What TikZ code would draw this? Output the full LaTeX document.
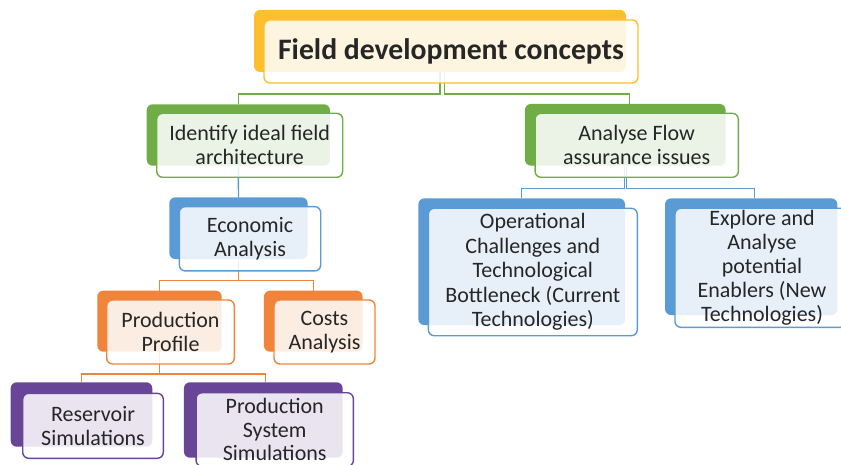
\documentclass[tikz,border=0pt]{standalone}
\usepackage{fontspec}
\setmainfont{Carlito}
\definecolor{cgold}{HTML}{FDBF2D}
\definecolor{cgreen}{HTML}{70AD47}
\definecolor{cblue}{HTML}{5B9BD5}
\definecolor{corange}{HTML}{F0843A}
\definecolor{cpurple}{HTML}{684597}
\definecolor{txt}{HTML}{262626}
\tikzset{
  backbox/.style={draw=none, fill=#1, rounded corners=6pt, inner sep=0pt, outer sep=0pt},
  frontbox/.style={draw=#1, line width=1.4pt, fill=white, fill opacity=0.86, draw opacity=1, text opacity=1,
    rounded corners=6pt, align=center, text=txt, inner sep=0pt, outer sep=0pt,
    font=\fontsize{22}{24}\selectfont},
  conn/.style={draw=#1, line width=1.4pt}
}
\begin{document}
\begin{tikzpicture}[x=1pt,y=-1pt]
\useasboundingbox (0,0) rectangle (841,465);
\clip (0,0) rectangle (841,465);

% back boxes
\node[backbox=cgold, minimum width=372pt, minimum height=62pt] (T-b) at (440,41) {};
\node[backbox=cgreen, minimum width=183.3pt, minimum height=61.4pt] (I-b) at (238.3,135) {};
\node[backbox=cgreen, minimum width=200.7pt, minimum height=61.7pt] (A-b) at (625.3,134.8) {};
\node[backbox=cblue, minimum width=138.4pt, minimum height=61.7pt] (E-b) at (238.5,228.2) {};
\node[backbox=cblue, minimum width=206.7pt, minimum height=126.7pt] (O-b) at (521.7,261.7) {};
\node[backbox=cblue, minimum width=172.3pt, minimum height=116.7pt] (X-b) at (751.2,256.7) {};
\node[backbox=corange, minimum width=124.4pt, minimum height=61pt] (P-b) at (159.5,321.2) {};
\node[backbox=corange, minimum width=98.7pt, minimum height=61pt] (C-b) at (313.3,321.2) {};
\node[backbox=cpurple, minimum width=141.6pt, minimum height=64.4pt] (R-b) at (81.5,414.5) {};
\node[backbox=cpurple, minimum width=158.7pt, minimum height=75.4pt] (S-b) at (263.3,420) {};

% connectors
\draw[conn=cgreen] (T-b.south) -- ++(0,22) -| (I-b.north);
\draw[conn=cgreen] ([xshift=4.7pt]T-b.south) -- ++(0,22) -| ([xshift=4pt]A-b.north);
\draw[conn=cblue] (I-b.south) -- (E-b.north);
\draw[conn=cblue] ([xshift=-1pt]A-b.south) -- ++(0,22.6) -| (O-b.north);
\draw[conn=cblue] ([xshift=1.2pt]A-b.south) -- ++(0,22.6) -| ([xshift=3pt]X-b.north);
\draw[conn=corange] (E-b.south) -- ++(0,21.7) -| (P-b.north);
\draw[conn=corange] (E-b.south) -- ++(0,21.7) -| (C-b.north);
\draw[conn=corange] (P-b.south) -- ++(0,22.3) -| (R-b.north);
\draw[conn=corange] (P-b.south) -- ++(0,22.3) -| ([xshift=2.4pt]S-b.north);

% front boxes
\node[frontbox=cgold, minimum width=374pt, minimum height=63pt, font=\fontsize{29.7}{32}\selectfont\bfseries] (T) at (451,51.5) {Field development concepts};
\node[frontbox=cgreen, minimum width=186pt, minimum height=64pt] (I) at (249.7,145.3) {Identify ideal field\\architecture};
\node[frontbox=cgreen, minimum width=203.3pt, minimum height=64pt] (A) at (636.7,145.3) {Analyse Flow\\assurance issues};
\node[frontbox=cblue, minimum width=141.4pt, minimum height=64.3pt] (E) at (250,238.8) {Economic\\Analysis};
\node[frontbox=cblue, minimum width=209pt, minimum height=127.4pt, font=\fontsize{22}{24.6}\selectfont] (O) at (532.8,272) {Operational\\Challenges and\\Technological\\Bottleneck (Current\\Technologies)};
\node[frontbox=cblue, minimum width=174pt, minimum height=119pt] (X) at (762,267.8) {Explore and\\Analyse\\potential\\Enablers (New\\Technologies)};
\node[frontbox=corange, minimum width=127.6pt, minimum height=64pt] (P) at (170.5,332) {Production\\Profile};
\node[frontbox=corange, minimum width=101pt, minimum height=64pt] (C) at (324.5,332) {Costs\\Analysis};
\node[frontbox=cpurple, minimum width=140.6pt, minimum height=65pt] (R) at (93,425.8) {Reservoir\\Simulations};
\node[frontbox=cpurple, minimum width=157.3pt, minimum height=73.7pt, font=\fontsize{22}{23.2}\selectfont] (S) at (274.7,429.6) {Production\\System\\Simulations};
\end{tikzpicture}
\end{document}
